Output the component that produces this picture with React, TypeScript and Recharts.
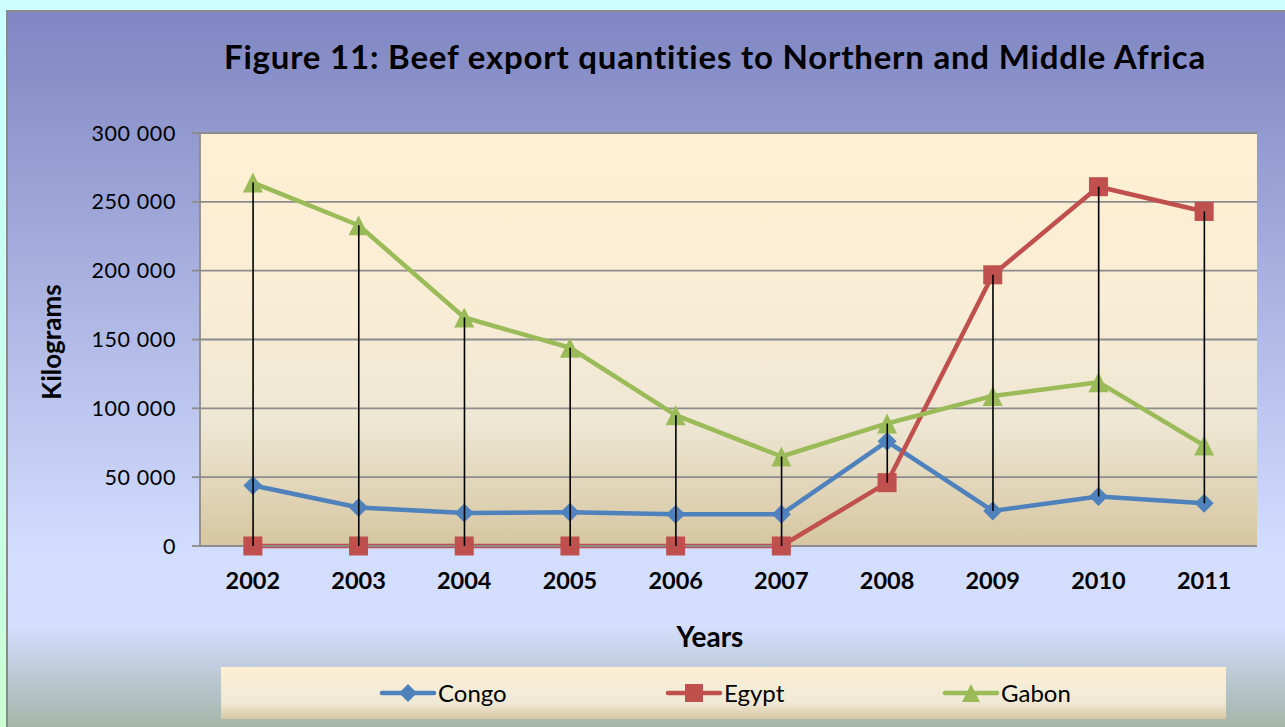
import React from 'react';
import { ComposedChart, Line, Bar, XAxis, YAxis, CartesianGrid } from 'recharts';

const years = ['2002', '2003', '2004', '2005', '2006', '2007', '2008', '2009', '2010', '2011'];
const congo = [44000, 28000, 24000, 24500, 23000, 23000, 76000, 25500, 36000, 31000];
const egypt = [0, 0, 0, 0, 0, 0, 46000, 197000, 261000, 243000];
const gabon = [264000, 233000, 166000, 144000, 95000, 65000, 89000, 109000, 119000, 73000];
const yTicks = [0, 50000, 100000, 150000, 200000, 250000, 300000];
const seriesNames = ['Congo', 'Egypt', 'Gabon'];

const COLORS = { Congo: '#4F81BD', Egypt: '#C0504D', Gabon: '#9BBB59' };
const FONT = 'Lato, "Open Sans", sans-serif';

const data = years.map((y, i) => {
  const vals = [congo[i], egypt[i], gabon[i]];
  return {
    year: y,
    Congo: congo[i],
    Egypt: egypt[i],
    Gabon: gabon[i],
    hl: [Math.min(...vals), Math.max(...vals)],
  };
});

const PLOT_LEFT = 200;
const PLOT_TOP = 133;
const PLOT_RIGHT = 1257;
const PLOT_BOTTOM = 546;

const fmt = (v: number) => (v === 0 ? '0' : `${v / 1000} 000`);

const Diamond = ({ cx, cy, color, s = 9.5 }: any) => (
  <path d={`M${cx},${cy - s} L${cx + s},${cy} L${cx},${cy + s} L${cx - s},${cy} Z`} fill={color} />
);
const Square = ({ cx, cy, color, s = 9.5 }: any) => (
  <rect x={cx - s} y={cy - s} width={2 * s} height={2 * s} fill={color} />
);
const Triangle = ({ cx, cy, color, s = 10 }: any) => (
  <path d={`M${cx},${cy - s} L${cx + s},${cy + s} L${cx - s},${cy + s} Z`} fill={color} />
);

const markerFor = (name: string) =>
  name === 'Congo' ? Diamond : name === 'Egypt' ? Square : Triangle;

const dotRenderer = (name: string) => (p: any) => {
  const M = markerFor(name);
  if (p.cx == null || p.cy == null) return <g key={`${name}-${p.index}`} />;
  return (
    <g key={`${name}-${p.index}`}>
      <M cx={p.cx} cy={p.cy} color={(COLORS as any)[name]} />
    </g>
  );
};

const HLShape = (p: any) => {
  const x = p.x + p.width / 2;
  return <line x1={x} x2={x} y1={p.y} y2={p.y + p.height} stroke="#000" strokeWidth={1.6} />;
};

const XTick = ({ x, payload }: any) => (
  <text x={x} y={588.5} textAnchor="middle" fontFamily={FONT} fontWeight={700} fontSize={23.5} fill="#000">
    {payload.value}
  </text>
);

const YTick = ({ y, payload }: any) => (
  <text x={176} y={y + 7.5} textAnchor="end" fontFamily={FONT} fontSize={21.5} fill="#000" letterSpacing={0.6}>
    {fmt(payload.value)}
  </text>
);

const LegendItem = ({ name, left }: { name: string; left: number }) => {
  const M = markerFor(name);
  const color = (COLORS as any)[name];
  return (
    <div style={{ position: 'absolute', left, top: 0, height: 52, display: 'flex', alignItems: 'center' }}>
      <svg width={58} height={24} style={{ display: 'block' }}>
        <line x1={3} x2={55} y1={12} y2={12} stroke={color} strokeWidth={4.5} strokeLinecap="round" />
        <M cx={29} cy={12} color={color} s={9} />
      </svg>
      <span style={{ fontFamily: FONT, fontSize: 24, color: '#000', marginLeft: 1, lineHeight: '24px' }}>{name}</span>
    </div>
  );
};

export default function App() {
  return (
    <div
      style={{
        position: 'absolute',
        left: 0,
        top: 0,
        width: 1285,
        height: 727,
        overflow: 'hidden',
        background: 'linear-gradient(to bottom, #CCFFFF 0%, #CCFFE8 60%, #CCFFD4 100%)',
      }}
    >
      {/* frame */}
      <div
        style={{
          position: 'absolute',
          left: 6,
          top: 10,
          width: 1300,
          height: 730,
          borderLeft: '2px solid #8A8A8A',
          borderTop: '2px solid #8A8A8A',
          background:
            'linear-gradient(to bottom, #7F86C2 0%, #D3DDFE 74%, #D4DEFF 84%, #B8C6CE 92%, #9DB09C 100%)',
        }}
      />
      {/* plot background */}
      <div
        style={{
          position: 'absolute',
          left: PLOT_LEFT,
          top: PLOT_TOP,
          width: PLOT_RIGHT - PLOT_LEFT,
          height: PLOT_BOTTOM - PLOT_TOP,
          background: 'linear-gradient(to bottom, #FFF0D3 0%, #F9EDD5 40%, #EEE7D4 70%, #D6C6A1 100%)',
        }}
      />
      {/* title */}
      <div
        style={{
          position: 'absolute',
          left: 0,
          width: 1430,
          top: 35,
          textAlign: 'center',
          fontFamily: FONT,
          fontWeight: 700,
          fontSize: 33,
          letterSpacing: 0.8,
          color: '#000',
          lineHeight: '42px',
          whiteSpace: 'nowrap',
        }}
      >
        Figure 11: Beef export quantities to Northern and Middle Africa
      </div>
      {/* y axis title */}
      <div
        style={{
          position: 'absolute',
          left: 51,
          top: 342,
          transform: 'translate(-50%, -50%) rotate(-90deg)',
          fontFamily: FONT,
          fontWeight: 700,
          fontSize: 26,
          color: '#000',
          whiteSpace: 'nowrap',
        }}
      >
        Kilograms
      </div>
      {/* x axis title */}
      <div
        style={{
          position: 'absolute',
          left: 710,
          top: 636,
          transform: 'translate(-50%, -50%)',
          fontFamily: FONT,
          fontWeight: 700,
          fontSize: 28,
          color: '#000',
          whiteSpace: 'nowrap',
        }}
      >
        Years
      </div>
      <div style={{ position: 'absolute', left: 0, top: 0 }}>
        <ComposedChart
          width={1285}
          height={727}
          data={data}
          margin={{ top: PLOT_TOP, right: 1285 - PLOT_RIGHT, left: 0, bottom: 0 }}
        >
          <CartesianGrid vertical={false} stroke="#8C8C8C" strokeWidth={1.8} />
          <XAxis
            dataKey="year"
            height={727 - PLOT_BOTTOM}
            tick={<XTick />}
            tickLine={false}
            axisLine={{ stroke: '#8C8C8C', strokeWidth: 1.8 }}
            interval={0}
          />
          <YAxis
            width={PLOT_LEFT}
            domain={[0, 300000]}
            ticks={yTicks}
            tick={<YTick />}
            tickSize={8}
            tickLine={{ stroke: '#8C8C8C', strokeWidth: 1.8 }}
            axisLine={{ stroke: '#8C8C8C', strokeWidth: 1.8 }}
            interval={0}
          />
          {seriesNames.map((name) => (
            <Line
              key={name}
              type="linear"
              dataKey={name}
              stroke={(COLORS as any)[name]}
              strokeWidth={4.5}
              strokeLinejoin="round"
              dot={dotRenderer(name)}
              activeDot={false}
              isAnimationActive={false}
            />
          ))}
          <Bar dataKey="hl" shape={HLShape} isAnimationActive={false} legendType="none" zIndex={1000} />
        </ComposedChart>
      </div>
      {/* legend */}
      <div
        style={{
          position: 'absolute',
          left: 221,
          top: 667,
          width: 1005,
          height: 52,
          background: 'linear-gradient(to bottom, #FFEFD2 0%, #F3ECD7 45%, #EFE8D4 70%, #D6C6A1 100%)',
        }}
      >
        <LegendItem name="Congo" left={379 - 221} />
        <LegendItem name="Egypt" left={665 - 221} />
        <LegendItem name="Gabon" left={942 - 221} />
      </div>
    </div>
  );
}
